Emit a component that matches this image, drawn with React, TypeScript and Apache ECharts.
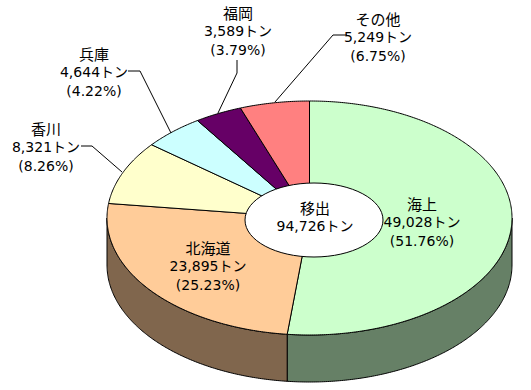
import React, { useEffect, useRef } from "react";
import * as echarts from "echarts";

const categories = ["海上", "北海道", "香川", "兵庫", "福岡", "その他"];
const tons = [49028, 23895, 8321, 4644, 3589, 5249];
const tonLabels = ["49,028", "23,895", "8,321", "4,644", "3,589", "5,249"];
const percentLabels = ["51.76", "25.23", "8.26", "4.22", "3.79", "6.75"];
const topColors = ["#CCFFCC", "#FFCC99", "#FFFFCC", "#CCFFFF", "#660066", "#FF8080"];
const wallColors = ["#668066", "#80664D", "#808066", "#668080", "#330033", "#804040"];
const centerTitle = "移出";
const centerValue = "94,726トン";

const CX = 309.5, CY = 218, RX = 202.5, RY = 117, DEPTH = 47;
const NAME_FONT = '15px "Noto Sans CJK JP", sans-serif';
const NUM_FONT = '14px "DejaVu Sans", "Noto Sans CJK JP", sans-serif';
const LH = 19;

const labelPos: [number, number][] = [[422, 222], [208, 266], [46, 147], [94, 72], [238, 31], [378, 37]];
const leaders: [number, number][][] = [
  [[81, 146], [92, 146], [122, 172]],
  [[128, 71], [140, 71], [171, 133]],
  [[237, 60], [237, 73], [218, 113]],
  [[347, 35], [333, 35], [275, 102]],
];

const total = tons.reduce((a, b) => a + b, 0);
const pt = (ang: number, dy = 0): number[] => [CX + RX * Math.sin(ang), CY - RY * Math.cos(ang) + dy];
const range = (i: number) => {
  let s = 0;
  for (let k = 0; k < i; k++) s += tons[k];
  return [(s / total) * 2 * Math.PI, ((s + tons[i]) / total) * 2 * Math.PI];
};
const arc = (a: number, b: number, dy = 0) => {
  const n = Math.max(2, Math.ceil((b - a) / 0.01));
  const out: number[][] = [];
  for (let i = 0; i <= n; i++) out.push(pt(a + ((b - a) * i) / n, dy));
  return out;
};
const textEl = (text: string, x: number, y: number, font: string) => ({
  type: "text",
  z: 60,
  x,
  y,
  style: { text, font, fill: "#000", align: "center", verticalAlign: "middle" },
});

export default function App() {
  const ref = useRef<HTMLDivElement>(null);
  useEffect(() => {
    const chart = echarts.init(ref.current!, undefined, { renderer: "svg" });
    chart.setOption({
      animation: false,
      backgroundColor: "#fff",
      series: [
        {
          type: "custom",
          coordinateSystem: "none",
          silent: true,
          z: 1,
          data: tons,
          renderItem: (p: any) => {
            const [a, b] = range(p.dataIndex);
            const s = Math.max(a, Math.PI / 2), e = Math.min(b, 1.5 * Math.PI);
            if (e <= s) return { type: "group", children: [] };
            const pts = [...arc(s, e), ...arc(s, e, DEPTH).reverse()];
            return {
              type: "polygon",
              shape: { points: pts },
              style: { fill: wallColors[p.dataIndex], stroke: "#000", lineWidth: 1 },
            };
          },
        },
        {
          type: "custom",
          coordinateSystem: "none",
          silent: true,
          z: 2,
          data: tons,
          renderItem: (p: any) => {
            const [a, b] = range(p.dataIndex);
            return {
              type: "polygon",
              shape: { points: [[CX, CY], ...arc(a, b)] },
              style: { fill: topColors[p.dataIndex], stroke: "#000", lineWidth: 1 },
            };
          },
        },
      ],
      graphic: [
        {
          type: "ellipse",
          z: 50,
          shape: { cx: 314, cy: 220, rx: 69, ry: 37 },
          style: { fill: "#fff", stroke: "#000", lineWidth: 1 },
        },
        ...leaders.map((points) => ({
          type: "polyline",
          z: 50,
          shape: { points },
          style: { fill: "none", stroke: "#000", lineWidth: 1 },
        })),
        ...categories.flatMap((name, i) => {
          const [x, y] = labelPos[i];
          return [
            textEl(name, x, y - LH, NAME_FONT),
            textEl(`${tonLabels[i]}トン`, x, y, NUM_FONT),
            textEl(`(${percentLabels[i]}%)`, x, y + LH, NUM_FONT),
          ];
        }),
        textEl(centerTitle, 315, 207, NAME_FONT),
        textEl(centerValue, 315, 226, NUM_FONT),
      ],
    });
    return () => chart.dispose();
  }, []);
  return <div ref={ref} style={{ position: "absolute", left: 0, top: 0, width: 531, height: 390 }} />;
}
